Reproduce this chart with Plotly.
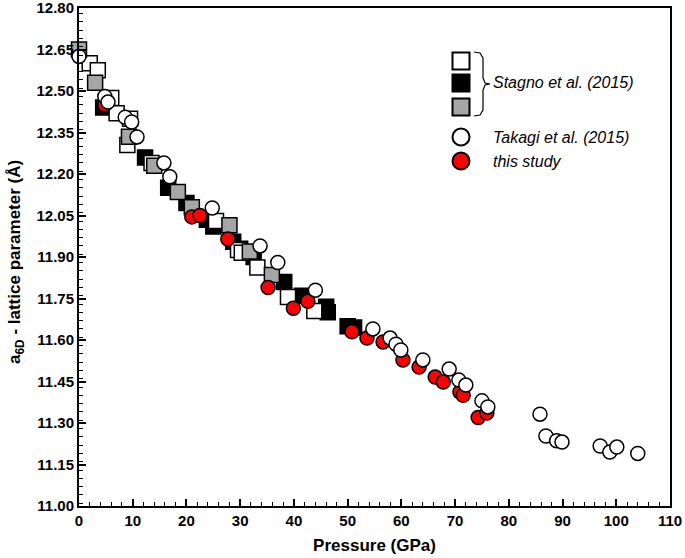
import plotly.graph_objects as go

# ---- data (pressure GPa, lattice parameter Å) ----
stagno_white_p = [2.0, 3.5, 6.0, 7.0, 9.5, 9.0, 13.5, 25.5, 29.6, 30.3, 33.2, 38.9, 43.8]
stagno_white_a = [12.60, 12.575, 12.475, 12.42, 12.40, 12.305, 12.24, 12.03, 11.925, 11.915, 11.862, 11.755, 11.705]

stagno_black_p = [4.5, 12.3, 16.6, 20.0, 23.8, 25.0, 28.7, 30.0, 32.5, 38.2, 41.5, 46.0, 46.3, 50.0, 51.2]
stagno_black_a = [12.44, 12.26, 12.15, 12.095, 12.035, 12.01, 11.955, 11.93, 11.90, 11.81, 11.76, 11.72, 11.70, 11.65, 11.645]

stagno_gray_p = [0.0, 3.0, 9.3, 14.0, 18.4, 21.0, 28.0, 31.8, 35.9]
stagno_gray_a = [12.65, 12.53, 12.335, 12.23, 12.135, 12.08, 12.015, 11.92, 11.835]

takagi_p = [0.0, 4.8, 5.4, 8.6, 9.8, 10.8, 15.8, 16.9, 24.8, 33.7, 37.0, 44.0,
            54.7, 57.9, 59.0, 59.9, 64.0, 68.9, 70.7, 72.0, 75.0, 76.1,
            85.8, 86.9, 88.9, 89.9, 97.0, 98.8, 100.1, 104.0]
takagi_a = [12.625, 12.48, 12.46, 12.405, 12.388, 12.334, 12.24, 12.19, 12.077, 11.94, 11.88, 11.78,
            11.64, 11.607, 11.585, 11.564, 11.528, 11.495, 11.455, 11.437, 11.38, 11.358,
            11.332, 11.253, 11.236, 11.231, 11.217, 11.195, 11.213, 11.19]

study_p = [4.8, 21.0, 22.5, 27.7, 35.2, 39.9, 42.6, 50.8, 53.6, 56.6, 60.3, 63.3,
           66.3, 67.8, 70.9, 71.5, 74.3, 75.9]
study_a = [12.45, 12.045, 12.05, 11.965, 11.79, 11.715, 11.74, 11.63, 11.607, 11.593, 11.528, 11.502,
           11.466, 11.448, 11.412, 11.40, 11.32, 11.336]

legend_labels = ["Stagno et al. (2015)", "Takagi et al. (2015)", "this study"]
y_title = "<b>a<sub>6D</sub> - lattice parameter (Å)</b>"
x_title = "<b>Pressure (GPa)</b>"

FONT = "Liberation Sans"
line = dict(color="black", width=1.5)

fig = go.Figure()
fig.add_trace(go.Scatter(x=stagno_black_p, y=stagno_black_a, mode="markers", cliponaxis=False,
                         marker=dict(symbol="square", size=15, color="black", line=line)))
fig.add_trace(go.Scatter(x=stagno_white_p, y=stagno_white_a, mode="markers", cliponaxis=False,
                         marker=dict(symbol="square", size=15, color="white", line=line)))
fig.add_trace(go.Scatter(x=stagno_gray_p, y=stagno_gray_a, mode="markers", cliponaxis=False,
                         marker=dict(symbol="square", size=15, color="#a6a6a6", line=line)))
fig.add_trace(go.Scatter(x=study_p, y=study_a, mode="markers", cliponaxis=False,
                         marker=dict(symbol="circle", size=14, color="#ff0000", line=line)))
fig.add_trace(go.Scatter(x=takagi_p, y=takagi_a, mode="markers", cliponaxis=False,
                         marker=dict(symbol="circle", size=14, color="white", line=line)))

# ---- custom legend (pixel -> paper conversion) ----
L, R, T, B = 79, 670, 8, 506
def px(x):
    return (x - L) / (R - L)
def py(y):
    return (B - y) / (B - T)

shapes = []
half = 8.5
for cy, col in [(61, "white"), (83, "black"), (107, "#a6a6a6")]:
    shapes.append(dict(type="rect", xref="paper", yref="paper",
                       x0=px(461 - half), x1=px(461 + half), y0=py(cy + half), y1=py(cy - half),
                       fillcolor=col, line=dict(color="black", width=2)))
for cy, col in [(137, "white"), (161, "#ff0000")]:
    shapes.append(dict(type="circle", xref="paper", yref="paper",
                       x0=px(461 - 8.5), x1=px(461 + 8.5), y0=py(cy + 8.5), y1=py(cy - 8.5),
                       fillcolor=col, line=dict(color="black", width=2)))
# brace
pts = [(474, 52), (480, 53), (483, 58), (483, 78), (485, 83), (490, 84),
       (485, 85), (483, 90), (483, 110), (480, 115), (474, 116)]
path = "M " + " L ".join(f"{px(x):.5f},{py(y):.5f}" for x, y in pts)
shapes.append(dict(type="path", xref="paper", yref="paper", path=path,
                   line=dict(color="black", width=1.2)))

annotations = []
for ty, txt in zip([83, 137, 161], legend_labels):
    annotations.append(dict(xref="paper", yref="paper", x=px(491), y=py(ty), text=f"<i>{txt}</i>",
                            showarrow=False, xanchor="left", yanchor="middle",
                            font=dict(family=FONT, size=16, color="black")))
annotations.append(dict(xref="paper", yref="paper", x=px(16), y=py(262), text=y_title,
                        textangle=-90, showarrow=False, xanchor="center", yanchor="middle",
                        font=dict(family=FONT, size=17, color="black")))

tickfont = dict(family=FONT, size=15, color="black", weight="bold")
fig.update_layout(
    width=685, height=558,
    margin=dict(l=L, r=685 - R, t=T, b=558 - B),
    paper_bgcolor="white", plot_bgcolor="white",
    showlegend=False,
    shapes=shapes, annotations=annotations,
    xaxis=dict(range=[0, 110], dtick=10, tick0=0, showgrid=False, zeroline=False, automargin=False,
               showline=True, mirror=True, linecolor="black", linewidth=2,
               ticks="inside", ticklen=7, tickwidth=1.5, tickcolor="black",
               ticklabeloverflow="allow",
               minor=dict(dtick=2, ticks="inside", ticklen=4, tickwidth=1, tickcolor="black"),
               tickfont=tickfont,
               title=dict(text=x_title, standoff=11,
                          font=dict(family=FONT, size=17, color="black"))),
    yaxis=dict(range=[11.0, 12.8], dtick=0.15, tick0=11.0, tickformat=".2f", showgrid=False,
               zeroline=False, showline=True, mirror=True, linecolor="black", linewidth=2, automargin=False,
               ticks="inside", ticklen=7, tickwidth=1.5, tickcolor="black",
               ticklabeloverflow="allow",
               minor=dict(dtick=0.03, ticks="inside", ticklen=4, tickwidth=1, tickcolor="black"),
               tickfont=tickfont),
)

fig.write_html("out.html", config={"displayModeBar": False},
               post_script="document.body.style.margin='0';document.body.style.padding='0';"
                           "document.body.style.overflow='hidden';")
